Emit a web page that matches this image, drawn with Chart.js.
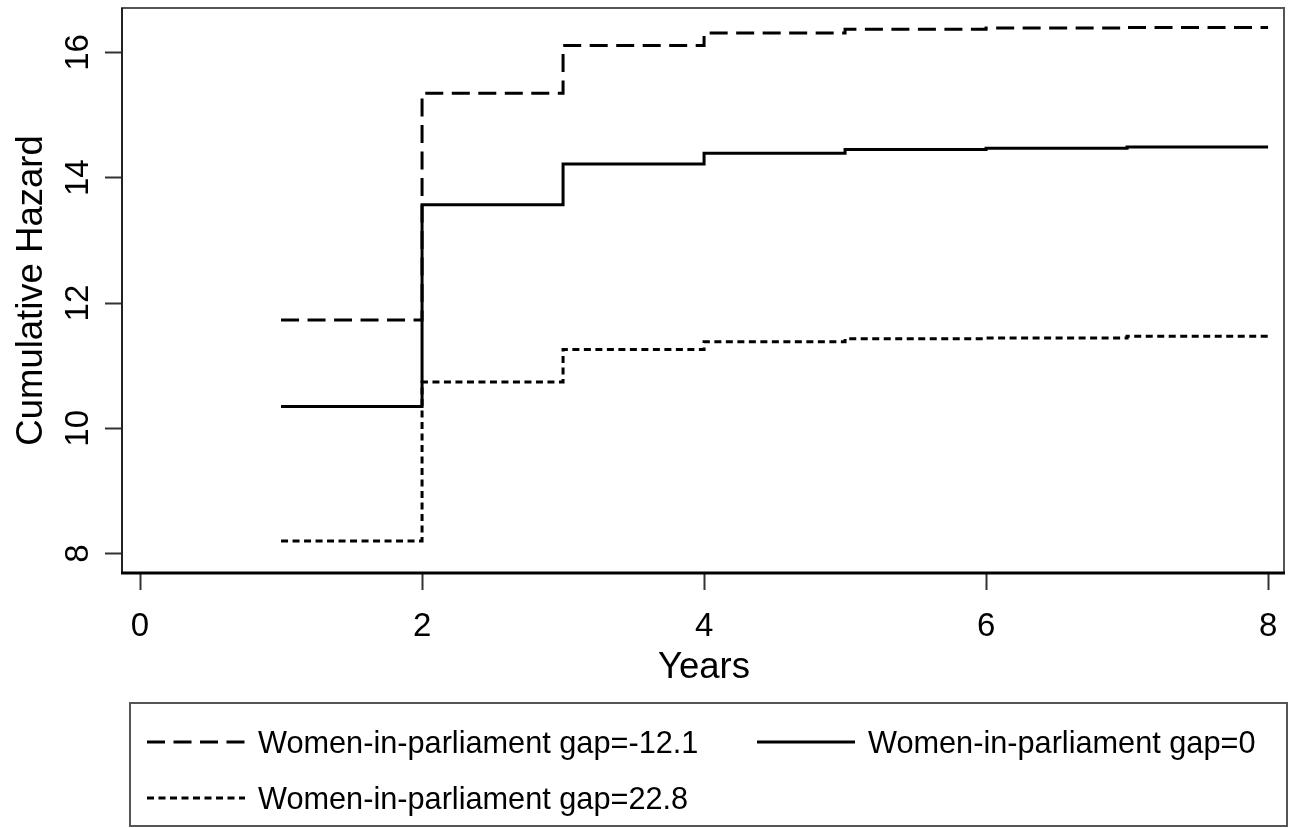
<!DOCTYPE html>
<html>
<head>
<meta charset="utf-8">
<title>Cumulative Hazard</title>
<script src="https://cdn.jsdelivr.net/npm/chart.js@4.4.1/dist/chart.umd.min.js"></script>
<style>
  html, body { margin: 0; padding: 0; background: #fff; }
  #chart-container { position: relative; width: 1293px; height: 828px; }
</style>
</head>
<body>
<div id="chart-container"><canvas id="hazardChart"></canvas></div>
<script>
// --- Data ---
const years = [1, 2, 3, 4, 5, 6, 7, 8];
// value on [year, year+1); last point repeats the last step so the line reaches 8
const hazardGapNeg = [11.73, 15.35, 16.11, 16.31, 16.37, 16.39, 16.40, 16.40];
const hazardGapZero = [10.35, 13.57, 14.22, 14.39, 14.45, 14.47, 14.49, 14.49];
const hazardGapPos = [8.20, 10.74, 11.26, 11.38, 11.43, 11.44, 11.47, 11.47];

const seriesLabels = [
  "Women-in-parliament gap=-12.1",
  "Women-in-parliament gap=0",
  "Women-in-parliament gap=22.8"
];

const xTicks = [0, 2, 4, 6, 8];
const yTicks = [8, 10, 12, 14, 16];

const xTitle = "Years";
const yTitle = "Cumulative Hazard";

const FONT = "'Liberation Sans', Arial, sans-serif";

// dash styles for each series (long dash, solid, short dash)
const dashes = [[18, 8.5], [], [7, 4.5]];

function toPoints(values) {
  return years.map((x, i) => ({ x: x, y: values[i] }));
}

// --- Plugin: frame, tick labels, axis titles and legend box ---
const framePlugin = {
  id: 'framePlugin',
  beforeDraw(chart) {
    const ctx = chart.ctx;
    ctx.save();
    ctx.fillStyle = '#fff';
    ctx.fillRect(0, 0, chart.width, chart.height);
    ctx.restore();
  },
  afterDraw(chart) {
    const ctx = chart.ctx;
    const a = chart.chartArea;
    const xs = chart.scales.x;
    const ys = chart.scales.y;
    ctx.save();

    // plot region box
    ctx.strokeStyle = '#555';
    ctx.lineWidth = 2;
    ctx.strokeRect(a.left, a.top, a.right - a.left, a.bottom - a.top);
    // left axis line
    ctx.strokeStyle = '#222';
    ctx.beginPath();
    ctx.moveTo(a.left, a.top);
    ctx.lineTo(a.left, a.bottom);
    ctx.stroke();
    // bottom axis line, thicker
    ctx.strokeStyle = '#000';
    ctx.lineWidth = 3;
    ctx.beginPath();
    ctx.moveTo(a.left - 1, a.bottom);
    ctx.lineTo(a.right + 1, a.bottom);
    ctx.stroke();

    ctx.fillStyle = '#000';
    // x tick labels
    ctx.font = '33px ' + FONT;
    ctx.textAlign = 'center';
    ctx.textBaseline = 'alphabetic';
    xTicks.forEach(v => {
      ctx.fillText(String(v), xs.getPixelForValue(v), 636);
    });
    // y tick labels, rotated
    yTicks.forEach(v => {
      ctx.save();
      ctx.translate(88, ys.getPixelForValue(v));
      ctx.rotate(-Math.PI / 2);
      ctx.fillText(String(v), 0, 0);
      ctx.restore();
    });

    // axis titles
    ctx.font = '36.5px ' + FONT;
    ctx.fillText(xTitle, (a.left + a.right) / 2 + 1, 678);
    ctx.save();
    ctx.translate(42, (a.top + a.bottom) / 2);
    ctx.rotate(-Math.PI / 2);
    ctx.fillText(yTitle, 0, 0);
    ctx.restore();

    // --- Legend box ---
    ctx.strokeStyle = '#555';
    ctx.lineWidth = 2;
    ctx.strokeRect(130, 703, 1157, 123);

    const items = [
      { x: 147, y: 742 },
      { x: 757, y: 742 },
      { x: 147, y: 798 }
    ];
    ctx.font = '30.7px ' + FONT;
    ctx.textAlign = 'left';
    items.forEach((it, i) => {
      ctx.strokeStyle = '#000';
      ctx.lineWidth = 3;
      ctx.setLineDash(dashes[i]);
      ctx.beginPath();
      ctx.moveTo(it.x, it.y);
      ctx.lineTo(it.x + 98, it.y);
      ctx.stroke();
      ctx.setLineDash([]);
      ctx.fillText(seriesLabels[i], it.x + 111, it.y + 11);
    });

    ctx.restore();
  }
};

// --- Chart ---
const ctx = document.getElementById('hazardChart').getContext('2d');
const datasetValues = [hazardGapNeg, hazardGapZero, hazardGapPos];

new Chart(ctx, {
  type: 'line',
  data: {
    datasets: datasetValues.map((vals, i) => ({
      label: seriesLabels[i],
      data: toPoints(vals),
      borderColor: '#000',
      borderWidth: 3,
      borderDash: dashes[i],
      stepped: 'before',
      pointRadius: 0,
      fill: false
    }))
  },
  options: {
    responsive: true,
    maintainAspectRatio: false,
    animation: false,
    devicePixelRatio: 1,
    layout: { padding: { left: 0, top: 8, right: 9, bottom: 0 } },
    plugins: {
      legend: { display: false },
      tooltip: { enabled: false }
    },
    scales: {
      x: {
        type: 'linear',
        min: -0.128,
        max: 8.113,
        afterBuildTicks: scale => { scale.ticks = xTicks.map(v => ({ value: v })); },
        afterFit: scale => { scale.height = 255; },
        ticks: { display: false },
        border: { display: false },
        grid: {
          drawOnChartArea: false,
          drawTicks: true,
          tickLength: 17,
          tickColor: '#333',
          tickWidth: 2
        }
      },
      y: {
        type: 'linear',
        min: 7.69,
        max: 16.71,
        afterBuildTicks: scale => { scale.ticks = yTicks.map(v => ({ value: v })); },
        afterFit: scale => { scale.width = 122; },
        ticks: { display: false },
        border: { display: false },
        grid: {
          drawOnChartArea: false,
          drawTicks: true,
          tickLength: 17,
          tickColor: '#333',
          tickWidth: 2
        }
      }
    }
  },
  plugins: [framePlugin]
});
</script>
</body>
</html>
